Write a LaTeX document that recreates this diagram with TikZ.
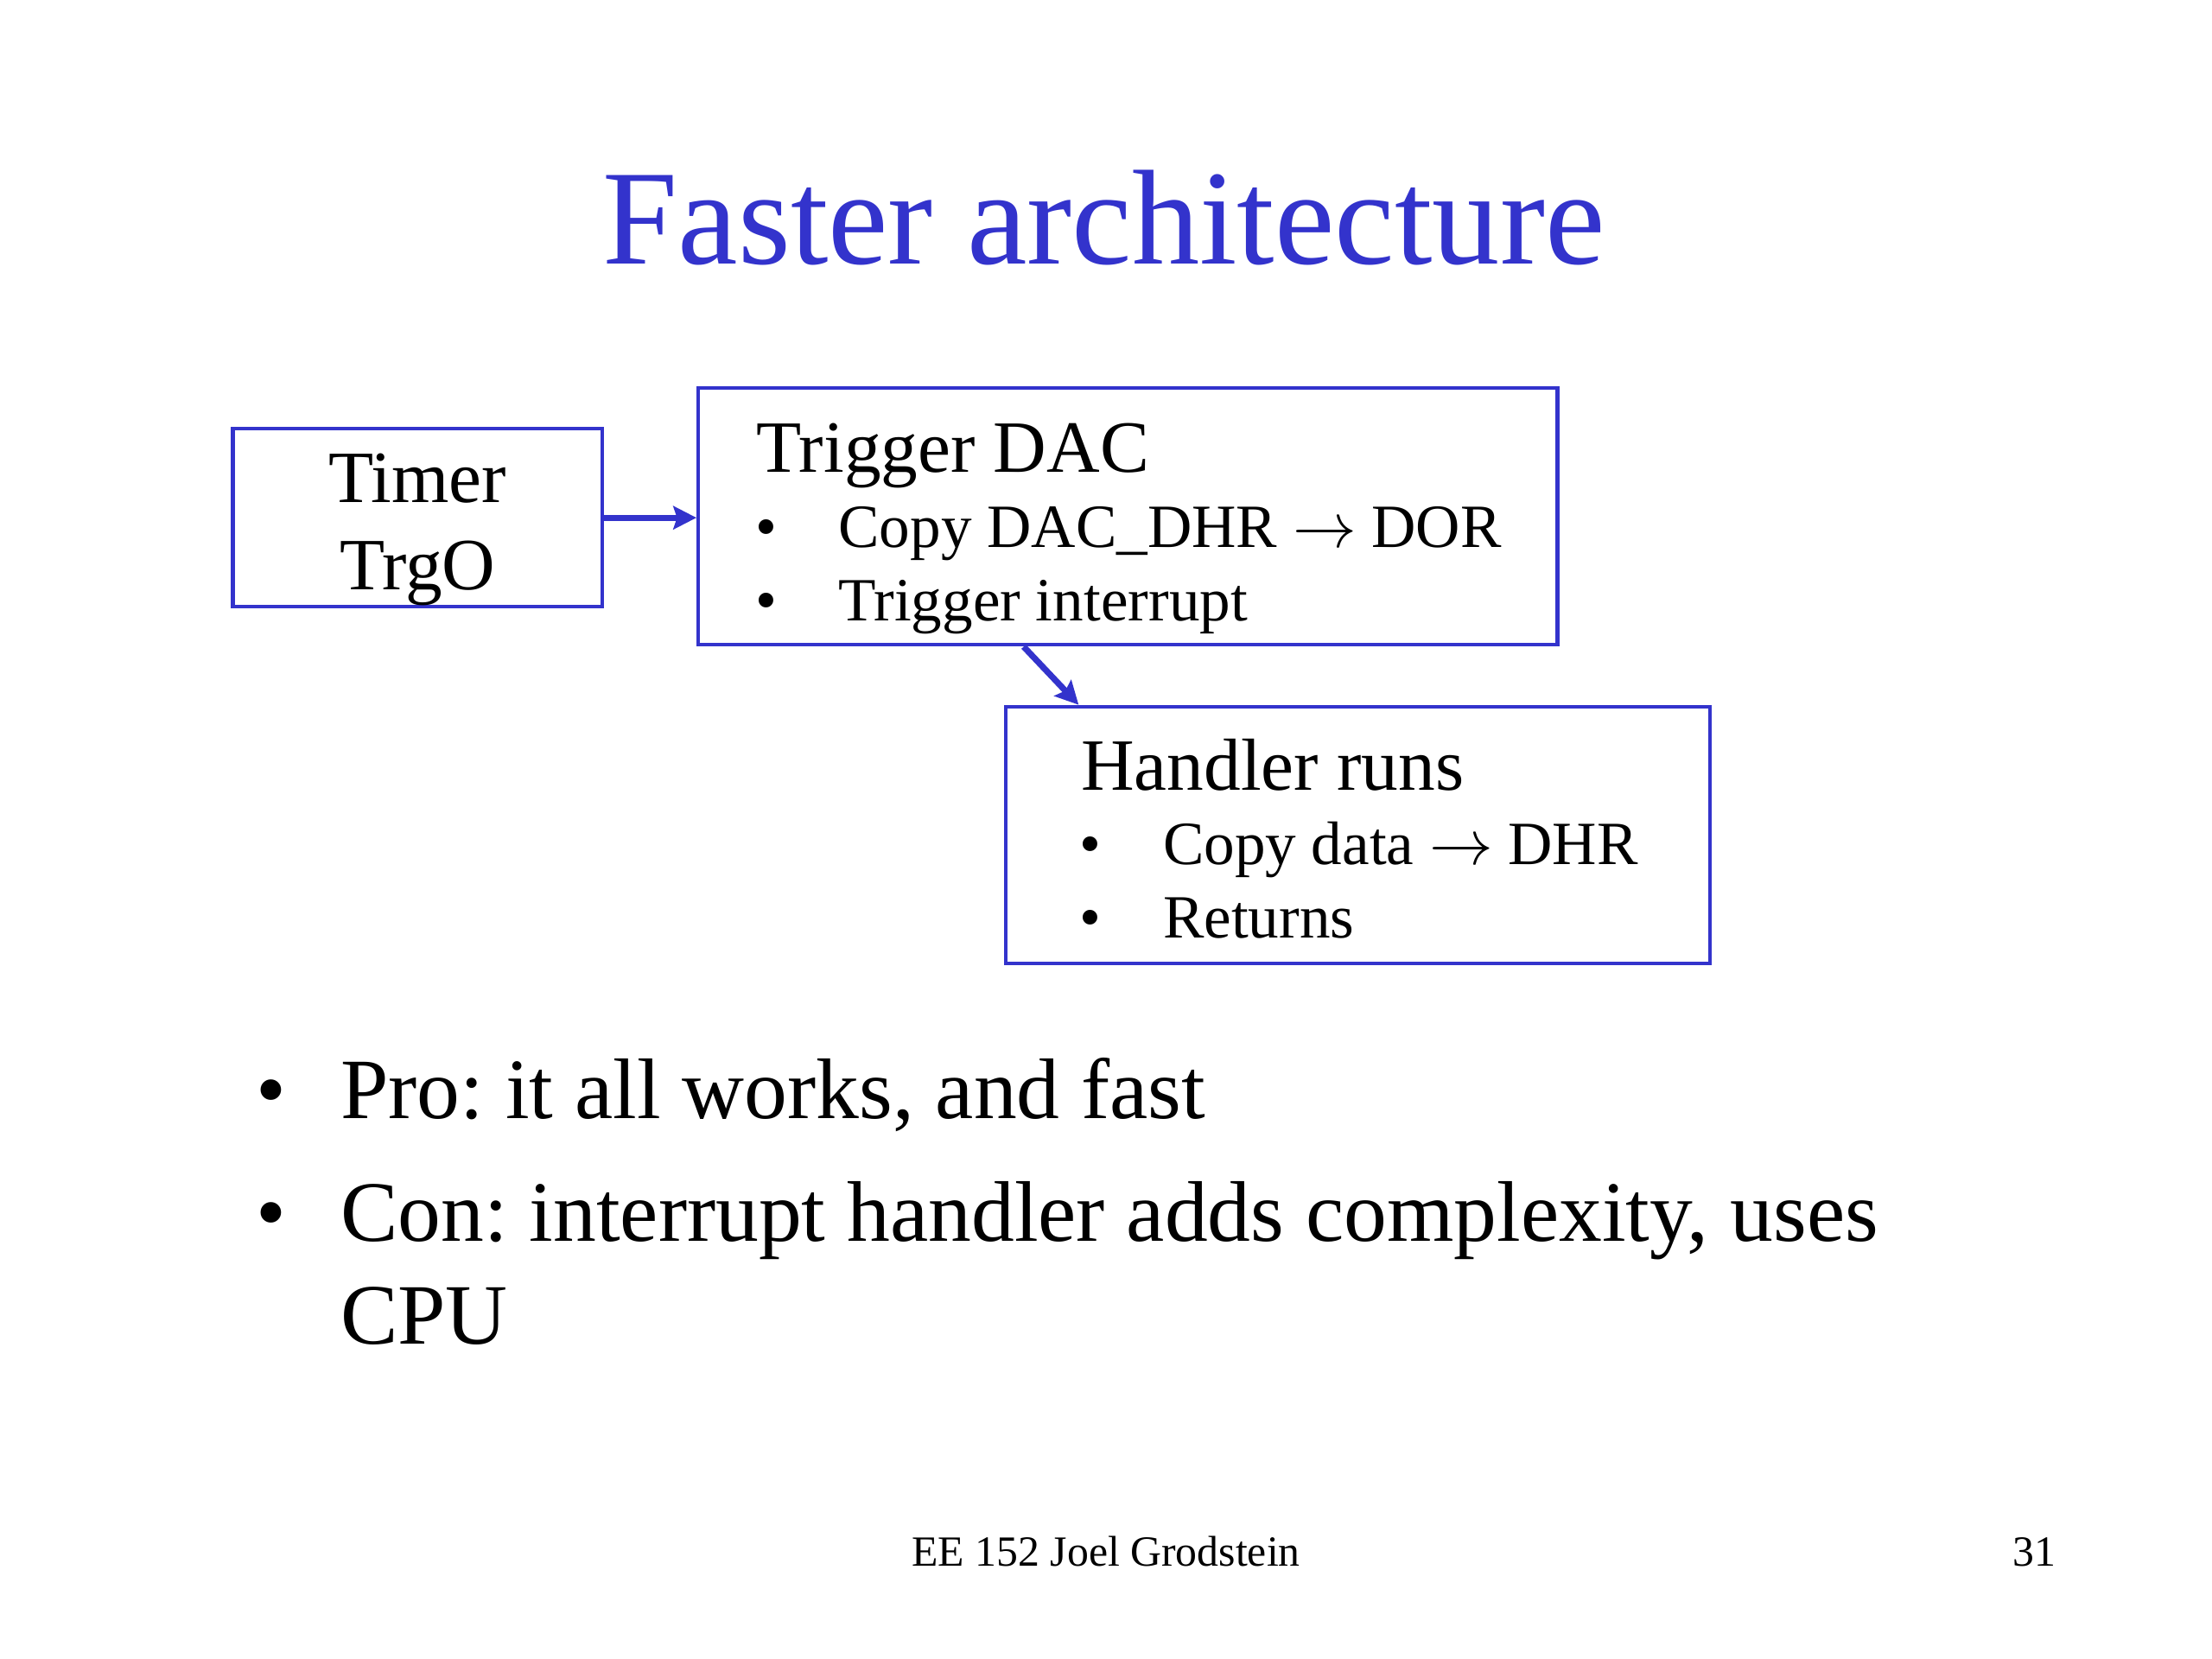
\documentclass[tikz,border=0pt]{standalone}
\usepackage{fontspec}
\setmainfont{Liberation Serif}
\usetikzlibrary{arrows.meta}
\definecolor{slideblue}{RGB}{51,51,204}
\frenchspacing
\newcommand{\rarr}{\ensuremath{\rightarrow}}
\tikzset{
  box/.style={draw=slideblue, line width=1.25pt, inner sep=0pt},
  conn/.style={draw=slideblue, line width=2pt, -{Stealth[length=7.5pt,width=7.5pt,inset=1.2pt]}},
  txt/.style={inner sep=0pt, anchor=base west, text=black},
  title/.style={inner sep=0pt, anchor=base, text=slideblue, font=\fontsize{44}{52}\selectfont},
  head/.style={txt, font=\fontsize{24}{28}\selectfont},
  item/.style={txt, font=\fontsize{20}{24}\selectfont},
  big/.style={txt, font=\fontsize{28}{34}\selectfont},
  foot/.style={inner sep=0pt, text=black, font=\fontsize{14}{17}\selectfont}
}
\begin{document}
\begin{tikzpicture}[x=0.45918pt, y=-0.45918pt]
\useasboundingbox[fill=white] (0,0) rectangle (1568,1176);
% title
\node[title] (ttl) at (782.5,187) {Faster architecture};
% boxes
\node[box, minimum width=120.3pt, minimum height=57.9pt] (timer) at (296,367) {};
\node[box, minimum width=279.6pt, minimum height=83.6pt] (trigger) at (799.5,366) {};
\node[box, minimum width=229.1pt, minimum height=83.6pt] (handler) at (962.5,592) {};
% timer text
\node[inner sep=0pt, anchor=base, font=\fontsize{24}{28}\selectfont] (t1) at (296,356) {Timer};
\node[inner sep=0pt, anchor=base, font=\fontsize{24}{28}\selectfont] (t2) at (296,418) {TrgO};
% trigger text
\node[head] (g0) at (536,335) {Trigger DAC};
\node[item] (gb1) at (535,388) {•};
\node[item] (g1) at (594,388) {Copy DAC\_DHR \rarr{} DOR};
\node[item] (gb2) at (535,440) {•};
\node[item] (g2) at (594,440) {Trigger interrupt};
% handler text
\node[head] (h0) at (766,560) {Handler runs};
\node[item] (hb1) at (765,613) {•};
\node[item] (h1) at (824,613) {Copy data \rarr{} DHR};
\node[item] (hb2) at (765,665) {•};
\node[item] (h2) at (824,665) {Returns};
% connectors
\draw[conn] (timer.east) -- (trigger.west |- timer.east);
\draw[conn] ([xshift=106.5pt]trigger.south west) -- ([xshift=24.3pt]handler.north west);
% bottom bullets
\node[big] (pb) at (181,793) {•};
\node[big] (p) at (241,793) {Pro: it all works, and fast};
\node[big] (cb) at (181,880) {•};
\node[big] (c) at (241,880) {Con: interrupt handler adds complexity, uses};
\node[big] (c2) at (241,953) {CPU};
% footer
\node[foot, anchor=base west] (ft) at (646,1110) {EE 152 Joel Grodstein};
\node[foot, anchor=base east] (pg) at (1458,1110) {31};
\end{tikzpicture}
\end{document}
